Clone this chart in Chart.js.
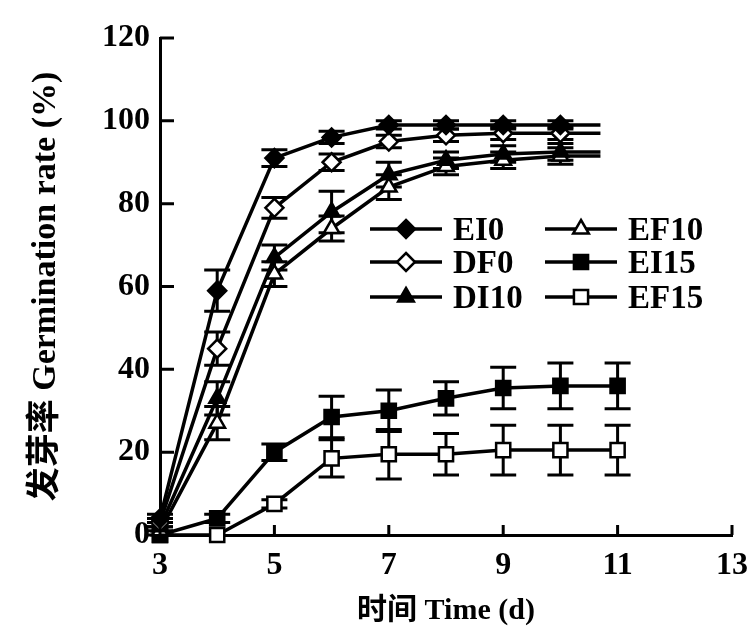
<!DOCTYPE html>
<html>
<head>
<meta charset="utf-8">
<script src="https://cdn.jsdelivr.net/npm/chart.js@4.4.1/dist/chart.umd.min.js"></script>
<style>
  html, body { margin: 0; padding: 0; background: #fff; }
</style>
</head>
<body>
<canvas id="germ-chart" width="749" height="633"></canvas>
<script>
// days sampled (top series stop at day 10, their lines run on a bit further)
const daysTop = [3, 4, 5, 6, 7, 8, 9, 10, 10.7];
const days15 = [3, 4, 5, 6, 7, 8, 9, 10, 11];

const ei0 = [4, 59, 91, 96, 99, 99, 99, 99, 99];
const df0 = [3, 45, 79, 90, 95, 96.5, 97, 97, 97];
const di10 = [2, 33, 67, 78, 87, 90.5, 92, 92.5, 92.5];
const ef10 = [1, 27, 63, 74, 84, 89, 90.5, 91.5, 91.5];
const ei15 = [0, 4, 20, 28.5, 30, 33, 35.5, 36, 36];
const ef15 = [0, 0, 7.5, 18.5, 19.5, 19.5, 20.5, 20.5, 20.5];

// standard errors
const ei0Err = [1, 5, 2, 1.5, 1, 1, 1, 1, null];
const df0Err = [1, 4, 2.5, 2, 1.5, 1.5, 1.5, 1.5, null];
const di10Err = [1, 4, 3, 5, 3, 2, 2, 2, null];
const ef10Err = [1, 4, 3, 3, 3, 2, 2, 2, null];
const ei15Err = [0, 1, 2, 5, 5, 4, 5, 5.5, 5.5];
const ef15Err = [0, 0, 1, 4.5, 6, 5, 6, 6, 6];

const xTicks = [3, 5, 7, 9, 11, 13];
const yTicks = [0, 20, 40, 60, 80, 100, 120];

const FONT = "'Liberation Serif', 'Noto Sans CJK SC', serif";
const SIZES = { rect: 10, rectRot: 9, triangle: 9 };

function toPoints(xs, ys) {
    return ys.map((v, i) => ({ x: xs[i], y: v }));
}

function makeSeries(label, xs, ys, errs, style, filled) {
    return {
        label: label,
        data: toPoints(xs, ys),
        errors: errs,
        markerStyle: style,
        markerFilled: filled,
        borderColor: '#000',
        borderWidth: 3.5,
        pointStyle: style,
        pointRadius: ctx => (ctx.raw && ctx.raw.x % 1 !== 0 ? 0 : SIZES[style]),
        pointBorderWidth: 2.5,
        pointBorderColor: '#000',
        pointBackgroundColor: filled ? '#000' : '#fff',
        tension: 0,
        clip: false
    };
}

const datasets = [
    makeSeries('EI0', daysTop, ei0, ei0Err, 'rectRot', true),
    makeSeries('DF0', daysTop, df0, df0Err, 'rectRot', false),
    makeSeries('DI10', daysTop, di10, di10Err, 'triangle', true),
    makeSeries('EF10', daysTop, ef10, ef10Err, 'triangle', false),
    makeSeries('EI15', days15, ei15, ei15Err, 'rect', true),
    makeSeries('EF15', days15, ef15, ef15Err, 'rect', false)
];

// error bars with caps, drawn under the markers
const errorBars = {
    id: 'errorBars',
    beforeDatasetsDraw(chart) {
        const ctx = chart.ctx;
        const xs = chart.scales.x, ys = chart.scales.y;
        ctx.save();
        ctx.strokeStyle = '#000';
        ctx.lineWidth = 3;
        chart.data.datasets.forEach(ds => {
            ds.data.forEach((p, i) => {
                const e = ds.errors[i];
                if (!e) return;
                const px = xs.getPixelForValue(p.x);
                const top = ys.getPixelForValue(p.y + e);
                const bot = ys.getPixelForValue(Math.max(0, p.y - e));
                ctx.beginPath();
                ctx.moveTo(px, top); ctx.lineTo(px, bot);
                ctx.moveTo(px - 13, top); ctx.lineTo(px + 13, top);
                ctx.moveTo(px - 13, bot); ctx.lineTo(px + 13, bot);
                ctx.stroke();
            });
        });
        ctx.restore();
    }
};

// inward tick marks
const innerTicks = {
    id: 'innerTicks',
    afterDraw(chart) {
        const ctx = chart.ctx;
        const xs = chart.scales.x, ys = chart.scales.y;
        const area = chart.chartArea;
        ctx.save();
        ctx.strokeStyle = '#000';
        ctx.lineWidth = 3;
        ctx.beginPath();
        yTicks.forEach(v => {
            const py = ys.getPixelForValue(v);
            ctx.moveTo(area.left, py); ctx.lineTo(area.left + 14, py);
        });
        xTicks.forEach(v => {
            const px = xs.getPixelForValue(v);
            ctx.moveTo(px, area.bottom); ctx.lineTo(px, area.bottom - 10);
        });
        ctx.stroke();
        ctx.restore();
    }
};

function drawMarker(ctx, style, filled, x, y, r) {
    ctx.beginPath();
    if (style === 'rectRot') {
        ctx.moveTo(x, y - r); ctx.lineTo(x + r, y); ctx.lineTo(x, y + r); ctx.lineTo(x - r, y);
    } else if (style === 'triangle') {
        ctx.moveTo(x, y - r); ctx.lineTo(x + r * 0.87, y + r * 0.5); ctx.lineTo(x - r * 0.87, y + r * 0.5);
    } else {
        const s = r * Math.SQRT1_2;
        ctx.rect(x - s, y - s, 2 * s, 2 * s);
    }
    ctx.closePath();
    ctx.fillStyle = filled ? '#000' : '#fff';
    ctx.fill();
    ctx.lineWidth = 2.5;
    ctx.stroke();
}

// two-column legend inside the plot
const boxLegend = {
    id: 'boxLegend',
    afterDraw(chart) {
        const ctx = chart.ctx;
        const cols = [370, 545];
        const rows = [229, 262, 297];
        ctx.save();
        ctx.strokeStyle = '#000';
        ctx.fillStyle = '#000';
        ctx.font = "bold 33px " + FONT;
        ctx.textBaseline = 'middle';
        chart.data.datasets.forEach((ds, i) => {
            const x0 = cols[Math.floor(i / 3)];
            const y0 = rows[i % 3];
            ctx.lineWidth = 3.5;
            ctx.beginPath();
            ctx.moveTo(x0, y0); ctx.lineTo(x0 + 72, y0);
            ctx.stroke();
            drawMarker(ctx, ds.markerStyle, ds.markerFilled, x0 + 36, y0, SIZES[ds.markerStyle]);
            ctx.fillStyle = '#000';
            ctx.fillText(ds.label, x0 + 83, y0 + 2);
        });
        ctx.restore();
    }
};

const ctx = document.getElementById('germ-chart').getContext('2d');
new Chart(ctx, {
    type: 'line',
    data: { datasets: datasets },
    options: {
        responsive: false,
        animation: false,
        layout: { padding: { top: 38, right: 17, left: 0, bottom: 0 } },
        plugins: {
            legend: { display: false },
            tooltip: { enabled: false }
        },
        scales: {
            x: {
                type: 'linear',
                min: 3,
                max: 13,
                afterBuildTicks: s => { s.ticks = xTicks.map(v => ({ value: v })); },
                afterFit: s => { s.height = 98; s.paddingRight = 0; s.paddingLeft = 0; },
                ticks: { color: '#000', padding: 12, font: { family: FONT, size: 32, weight: 'bold' } },
                grid: { display: false, drawTicks: false },
                border: { display: true, color: '#000', width: 3 },
                title: {
                    display: true,
                    text: '时间 Time (d)',
                    color: '#000',
                    padding: { top: 0, bottom: 4 },
                    font: { family: FONT, size: 30, weight: 'bold' }
                }
            },
            y: {
                min: 0,
                max: 120,
                afterBuildTicks: s => { s.ticks = yTicks.map(v => ({ value: v })); },
                afterFit: s => { s.width = 160; },
                ticks: { color: '#000', padding: 10, font: { family: FONT, size: 32, weight: 'bold' } },
                grid: { display: false, drawTicks: false },
                border: { display: true, color: '#000', width: 3 },
                title: {
                    display: true,
                    text: '发芽率 Germination rate (%)',
                    color: '#000',
                    padding: { top: 26, bottom: 0 },
                    font: { family: FONT, size: 34, weight: 'bold' }
                }
            }
        }
    },
    plugins: [errorBars, innerTicks, boxLegend]
});
</script>
</body>
</html>
